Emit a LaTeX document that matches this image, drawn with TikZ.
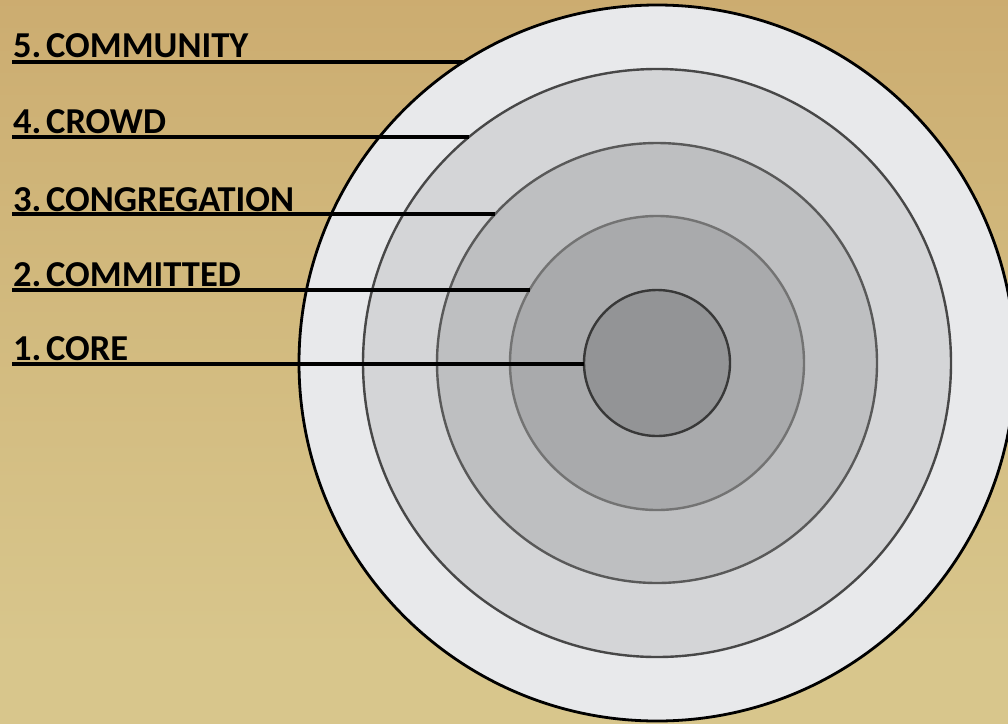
\documentclass[tikz,border=0pt]{standalone}
\usepackage{fontspec}
\setmainfont{Carlito}
\definecolor{bgtop}{HTML}{C59C60}
\definecolor{bgmid}{HTML}{D0B67A}
\definecolor{bglow}{HTML}{D8C68C}
\definecolor{bgbot}{HTML}{86744A}
\definecolor{ring5}{HTML}{E8E9EB}
\definecolor{ring4}{HTML}{D4D5D7}
\definecolor{ring3}{HTML}{BEBFC1}
\definecolor{ring2}{HTML}{A9AAAC}
\definecolor{ring1}{HTML}{939496}
\pgfdeclareverticalshading{parch}{100bp}{
  color(0bp)=(bgbot); color(4bp)=(bglow); color(30bp)=(bglow);
  color(60bp)=(bgmid); color(100bp)=(bgtop)}
\newcommand{\gap}{\hspace{0.13em}}
\tikzset{
  ring/.style={circle, inner sep=0pt, outer sep=0pt, line width=2.4pt},
  lbl/.style={anchor=base west, inner sep=0pt, font=\fontsize{36.5}{36.5}\selectfont\bfseries, text=black},
  leader/.style={line width=3.1pt, black}
}
\begin{document}
\begin{tikzpicture}[x=1pt,y=-1pt]
\useasboundingbox (0,0) rectangle (1008,723);
\shade[shading=parch] (0,0) rectangle (1008,723);
% rings
\node[ring, minimum size=716pt, fill=ring5, draw=black, line width=2.8pt] (c5) at (657,363) {};
\node[ring, minimum size=588pt, fill=ring4, draw=black!72] (c4) at (657,363) {};
\node[ring, minimum size=440pt, fill=ring3, draw=black!65] (c3) at (657,363) {};
\node[ring, minimum size=294pt, fill=ring2, draw=black!55] (c2) at (657,363) {};
\node[ring, minimum size=146pt, fill=ring1, draw=black!78] (c1) at (657,363) {};
% leader start and end points
\coordinate (s5) at (12,62);   \coordinate (e5) at (463,62);
\coordinate (s4) at (12,137);  \coordinate (e4) at (469,137);
\coordinate (s3) at (12,214);  \coordinate (e3) at (495,214);
\coordinate (s2) at (12,290);  \coordinate (e2) at (530,290);
\coordinate (s1) at (12,364);  \coordinate (e1) at (c1.west);
\draw[leader] (s5) -- (e5);
\draw[leader] (s4) -- (e4);
\draw[leader] (s3) -- (e3);
\draw[leader] (s2) -- (e2);
\draw[leader] (s1) -- (s1 -| e1);
% labels
\node[lbl] (t5) at (13,57) {5.\gap COMMUNITY};
\node[lbl] (t4) at (13,133) {4.\gap CROWD};
\node[lbl] (t3) at (13,211) {3.\gap CONGREGATION};
\node[lbl] (t2) at (13,286) {2.\gap COMMITTED};
\node[lbl] (t1) at (13,360) {1.\gap CORE};
\end{tikzpicture}
\end{document}
